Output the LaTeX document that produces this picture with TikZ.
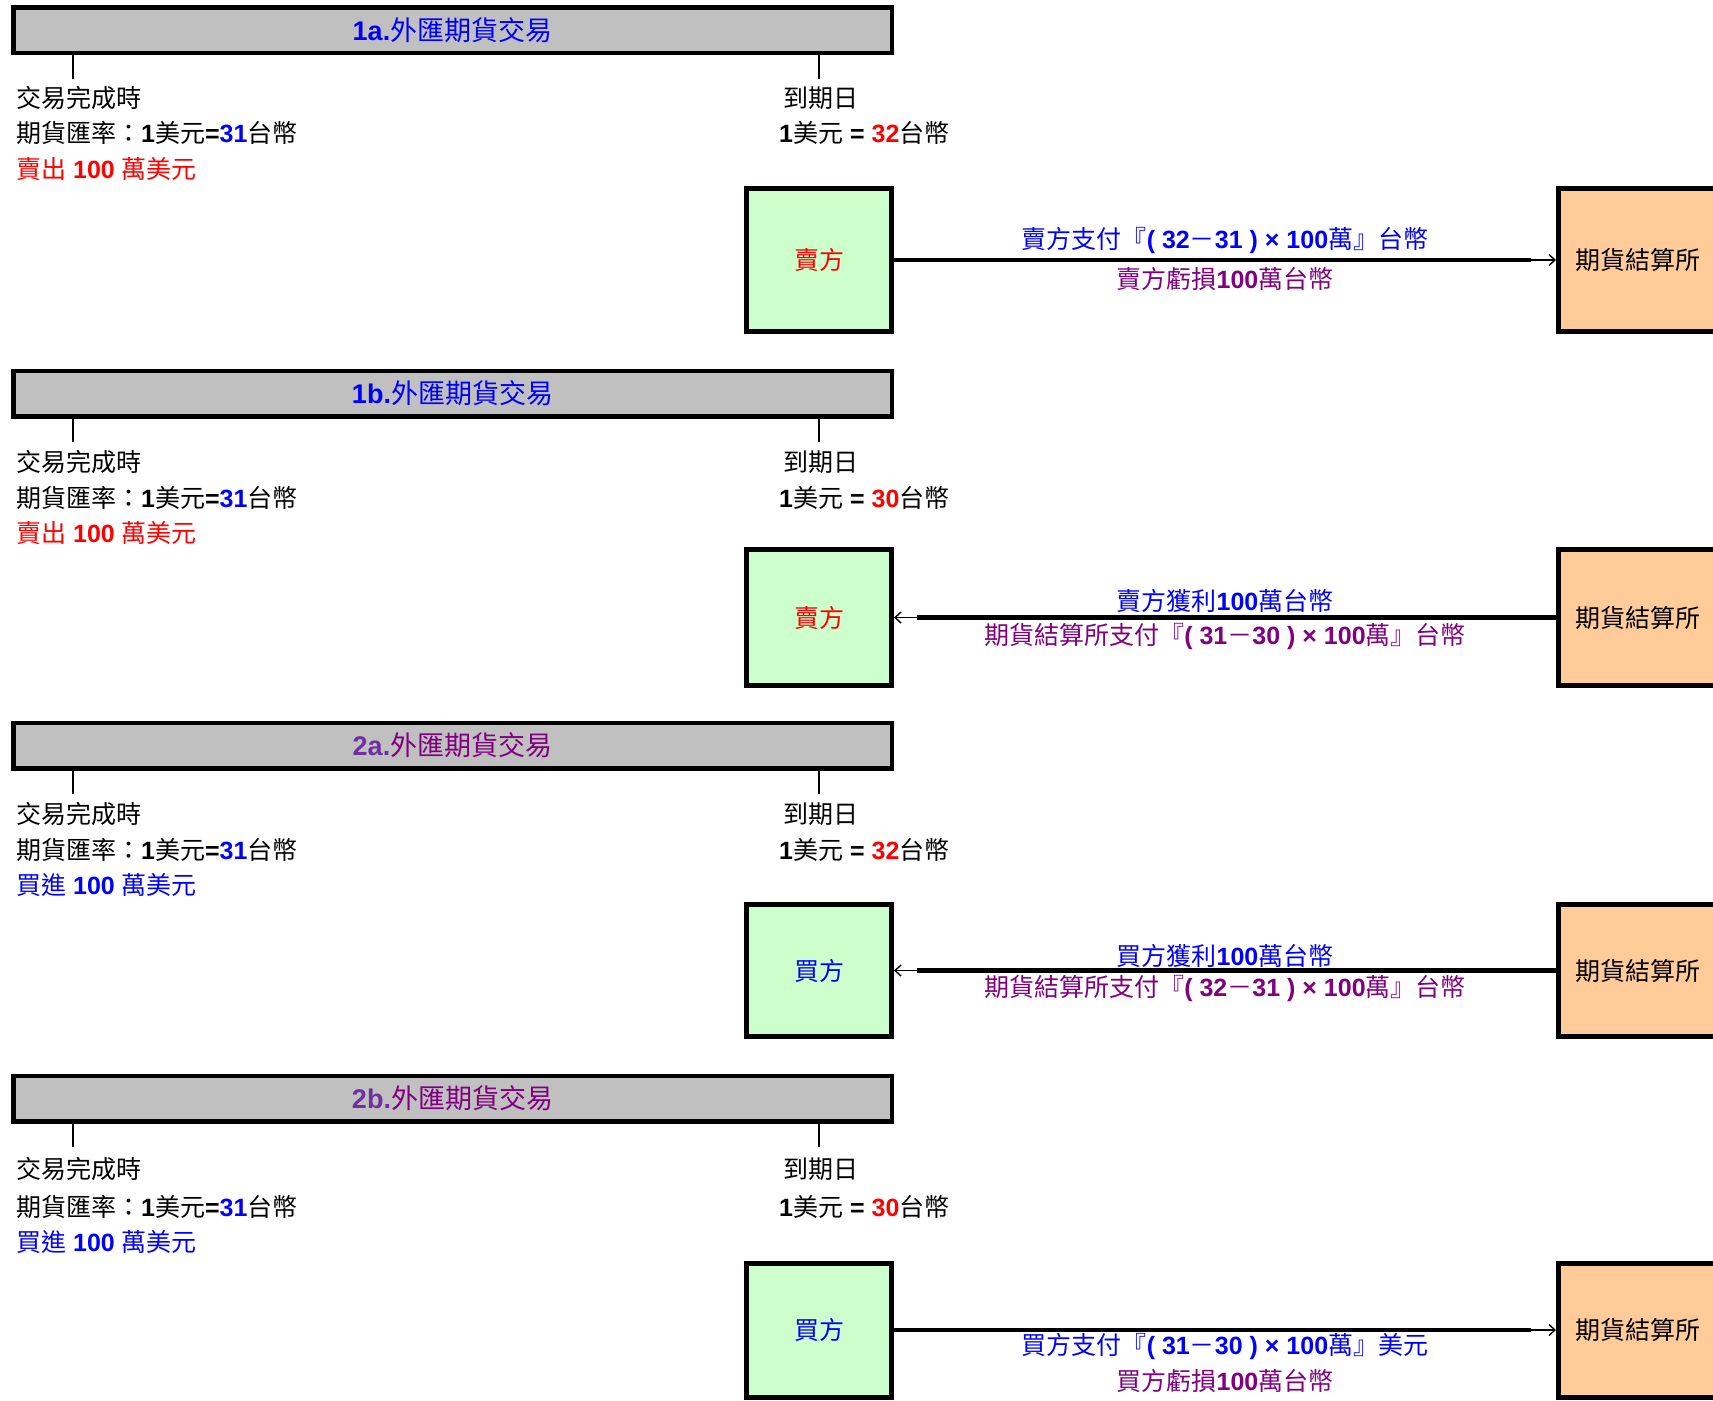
\documentclass[tikz,border=0pt]{standalone}
\usepackage{fontspec}
\usetikzlibrary{arrows.meta}
\setmainfont{Liberation Sans}
\newfontfamily\cjk{Noto Sans CJK TC}
% bold Latin figures inside Chinese text
\newcommand\nm[1]{{\rmfamily\bfseries #1}}
% settlement formula: <payer>支付『( a－b ) × 100萬』<currency>
\newcommand\pay[4]{#1支付『\nm{( #2}－\nm{#3 ) × 100}萬』#4}
\definecolor{tblue}{RGB}{0,0,255}
\definecolor{tred}{RGB}{255,0,0}
\definecolor{tpurple}{RGB}{128,0,128}
\definecolor{tviolet}{RGB}{112,48,160}
\definecolor{bargray}{RGB}{192,192,192}
\definecolor{partyfill}{RGB}{204,255,204}
\definecolor{housefill}{RGB}{255,204,153}
\tikzset{
  txt/.style={font=\cjk\fontsize{25}{30}\selectfont, inner sep=0pt},
  bar/.style={draw, line width=4.5pt, fill=bargray, minimum width=878.5pt,
    minimum height=45.5pt, inner sep=0pt, font=\cjk\fontsize{27}{32}\selectfont},
  party/.style={txt, draw, line width=5pt, fill=partyfill, minimum width=145pt},
  house/.style={txt, draw, line width=5pt, fill=housefill, minimum width=158pt},
  tickmark/.style={line width=2.5pt},
  flow/.style={line width=4.3pt},
  tip/.style={line width=1.4pt, -{Straight Barb[length=6pt,width=11pt]}},
  lbl/.style={txt, midway},
}
\begin{document}
\begin{tikzpicture}[x=1pt,y=-1pt]
\useasboundingbox (0,0) rectangle (1713,1400);

% ---------- 1a: short position, rate rises ----------
\node[bar] (bar1) at (452.5,30) {\color{tblue}\nm{1a.}外匯期貨交易};
\draw[tickmark] (73,55) -- (73,79);
\draw[tickmark] (819,55) -- (819,79);
\node[txt,anchor=west] (a1) at (16,98) {交易完成時};
\node[txt,anchor=west] (b1) at (16,133) {期貨匯率：\nm{1}美元\nm{=}\textcolor{tblue}{\nm{31}}台幣};
\node[txt,anchor=west,text=tred] (c1) at (16,169) {賣出\nm{ 100 }萬美元};
\node[txt,anchor=west] (d1) at (783,98) {到期日};
\node[txt,anchor=west] (e1) at (779,133) {\nm{1}美元\nm{ = }\textcolor{tred}{\nm{32}}台幣};
\node[party,minimum height=143pt] (p1) at (819,260) {\textcolor{tred}{賣方}};
\node[house,minimum height=143pt] (h1) at (1637.5,260) {期貨結算所};
\draw[flow] (p1.east) -- ([xshift=-25pt]h1.west) coordinate (k1);
\draw[tip] (k1) -- (h1.west);
\path (p1.east) -- (h1.west)
  node[lbl,yshift=19pt,text=tblue] (u1) {\pay{賣方}{32}{31}{台幣}}
  node[lbl,yshift=-19pt,text=tpurple] (v1) {賣方虧損\nm{100}萬台幣};

% ---------- 1b: short position, rate falls ----------
\node[bar] (bar2) at (452.5,393.5) {\color{tblue}\nm{1b.}外匯期貨交易};
\draw[tickmark] (73,418.5) -- (73,442);
\draw[tickmark] (819,418.5) -- (819,442);
\node[txt,anchor=west] (a2) at (16,462) {交易完成時};
\node[txt,anchor=west] (b2) at (16,498) {期貨匯率：\nm{1}美元\nm{=}\textcolor{tblue}{\nm{31}}台幣};
\node[txt,anchor=west,text=tred] (c2) at (16,533) {賣出\nm{ 100 }萬美元};
\node[txt,anchor=west] (d2) at (783,462) {到期日};
\node[txt,anchor=west] (e2) at (779,498) {\nm{1}美元\nm{ = }\textcolor{tred}{\nm{30}}台幣};
\node[party,minimum height=136pt] (p2) at (819,617.5) {\textcolor{tred}{賣方}};
\node[house,minimum height=136pt] (h2) at (1637.5,617.5) {期貨結算所};
\draw[flow] (h2.west) -- ([xshift=23pt]p2.east) coordinate (k2);
\draw[tip] (k2) -- (p2.east);
\path (p2.east) -- (h2.west)
  node[lbl,yshift=17pt,text=tblue] (u2) {賣方獲利\nm{100}萬台幣}
  node[lbl,yshift=-19pt,text=tpurple] (v2) {\pay{期貨結算所}{31}{30}{台幣}};

% ---------- 2a: long position, rate rises ----------
\node[bar] (bar3) at (452.5,745.5) {\textcolor{tviolet}{\nm{2a.}}\textcolor{tpurple}{外匯期貨交易}};
\draw[tickmark] (73,770.5) -- (73,794);
\draw[tickmark] (819,770.5) -- (819,794);
\node[txt,anchor=west] (a3) at (16,814) {交易完成時};
\node[txt,anchor=west] (b3) at (16,850) {期貨匯率：\nm{1}美元\nm{=}\textcolor{tblue}{\nm{31}}台幣};
\node[txt,anchor=west,text=tblue] (c3) at (16,885) {買進\nm{ 100 }萬美元};
\node[txt,anchor=west] (d3) at (783,814) {到期日};
\node[txt,anchor=west] (e3) at (779,850) {\nm{1}美元\nm{ = }\textcolor{tred}{\nm{32}}台幣};
\node[party,minimum height=132pt] (p3) at (819,970.5) {\textcolor{tblue}{買方}};
\node[house,minimum height=132pt] (h3) at (1637.5,970.5) {期貨結算所};
\draw[flow] (h3.west) -- ([xshift=23pt]p3.east) coordinate (k3);
\draw[tip] (k3) -- (p3.east);
\path (p3.east) -- (h3.west)
  node[lbl,yshift=15pt,text=tblue] (u3) {買方獲利\nm{100}萬台幣}
  node[lbl,yshift=-18pt,text=tpurple] (v3) {\pay{期貨結算所}{32}{31}{台幣}};

% ---------- 2b: long position, rate falls ----------
\node[bar] (bar4) at (452.5,1098.5) {\textcolor{tviolet}{\nm{2b.}}\textcolor{tpurple}{外匯期貨交易}};
\draw[tickmark] (73,1123.5) -- (73,1147);
\draw[tickmark] (819,1123.5) -- (819,1147);
\node[txt,anchor=west] (a4) at (16,1169) {交易完成時};
\node[txt,anchor=west] (b4) at (16,1207) {期貨匯率：\nm{1}美元\nm{=}\textcolor{tblue}{\nm{31}}台幣};
\node[txt,anchor=west,text=tblue] (c4) at (16,1242) {買進\nm{ 100 }萬美元};
\node[txt,anchor=west] (d4) at (783,1169) {到期日};
\node[txt,anchor=west] (e4) at (779,1207) {\nm{1}美元\nm{ = }\textcolor{tred}{\nm{30}}台幣};
\node[party,minimum height=134pt] (p4) at (819,1330) {\textcolor{tblue}{買方}};
\node[house,minimum height=134pt] (h4) at (1637.5,1330) {期貨結算所};
\draw[flow] (p4.east) -- ([xshift=-25pt]h4.west) coordinate (k4);
\draw[tip] (k4) -- (h4.west);
\path (p4.east) -- (h4.west)
  node[lbl,yshift=-17pt,text=tblue] (u4) {\pay{買方}{31}{30}{美元}}
  node[lbl,yshift=-51pt,text=tpurple] (v4) {買方虧損\nm{100}萬台幣};
\end{tikzpicture}
\end{document}
